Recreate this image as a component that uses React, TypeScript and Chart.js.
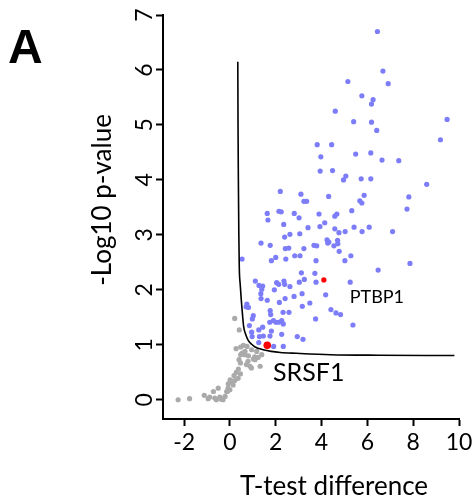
import React, { useEffect, useRef } from "react";
import { Chart, registerables } from "chart.js";

Chart.register(...registerables);

// ---------- data ----------
const xTickValues = [-2, 0, 2, 4, 6, 8, 10];
const yTickValues = [0, 1, 2, 3, 4, 5, 6, 7];

const xTitle = "T-test difference";
const yTitle = "-Log10 p-value";
const panelLabel = "A";

// significant proteins (blue) [difference, -log10 p]
const significantPoints: [number, number][] = [
  [6.44, 6.7], [6.68, 5.98], [5.15, 5.79], [6.91, 5.75], [5.76, 5.53], [6.25, 5.46],
  [6.18, 5.38], [4.6, 5.25], [9.48, 5.1], [5.4, 5.06], [6.18, 5.05], [6.41, 4.9],
  [9.19, 4.73], [3.81, 4.64], [4.44, 4.64], [3.97, 4.42], [5.49, 4.47], [6.15, 4.49],
  [6.64, 4.36], [7.37, 4.35], [3.94, 4.16], [4.48, 4.17], [5.06, 4.07], [4.96, 4.0],
  [5.73, 4.02], [6.15, 4.02], [8.59, 3.92], [2.2, 3.79], [3.1, 3.74], [4.31, 3.7],
  [5.86, 3.72], [5.67, 3.62], [5.76, 3.58], [7.81, 3.69], [3.23, 3.61], [3.35, 3.61],
  [7.73, 3.47], [5.32, 3.44], [1.63, 3.39], [1.66, 3.27], [2.14, 3.43], [2.24, 3.42],
  [2.81, 3.39], [3.02, 3.31], [2.35, 3.19], [3.41, 3.13], [3.89, 3.38], [3.93, 3.15],
  [4.14, 3.22], [4.58, 3.34], [4.67, 3.38], [4.58, 3.11], [4.76, 3.04], [5.03, 3.06],
  [5.42, 3.14], [5.77, 3.06], [6.08, 3.14], [7.1, 3.06], [2.39, 2.96], [2.62, 3.01],
  [3.05, 3.02], [1.36, 2.85], [1.76, 2.81], [2.42, 2.75], [2.57, 2.76], [3.23, 2.75],
  [3.67, 2.81], [3.79, 2.8], [4.24, 2.91], [4.27, 2.85], [4.32, 2.87], [4.7, 2.9],
  [4.71, 2.84], [4.54, 2.8], [4.77, 2.7], [5.28, 2.62], [5.02, 2.53], [3.76, 2.53],
  [2.0, 2.59], [1.81, 2.53], [2.44, 2.56], [2.83, 2.62], [3.06, 2.62], [0.53, 2.56],
  [7.86, 2.48], [6.47, 2.36], [3.12, 2.31], [3.71, 2.3], [3.76, 2.14], [5.25, 2.14],
  [4.18, 1.91], [1.11, 2.16], [1.27, 2.08], [1.43, 2.07], [1.39, 2.01], [2.04, 2.13],
  [2.13, 2.1], [2.36, 2.16], [2.39, 2.1], [2.62, 2.06], [3.03, 2.14], [3.25, 2.19],
  [1.94, 2.0], [1.35, 1.93], [1.36, 1.84], [1.63, 1.81], [2.16, 1.77], [2.41, 1.84],
  [2.8, 1.88], [3.15, 1.93], [3.49, 1.76], [0.74, 1.74], [0.81, 1.68], [0.71, 1.69],
  [1.02, 1.53], [0.98, 1.47], [1.76, 1.62], [1.78, 1.55], [2.32, 1.59], [2.58, 1.59],
  [1.9, 1.44], [2.01, 1.41], [2.13, 1.41], [2.26, 1.44], [2.33, 1.38], [1.74, 1.41],
  [1.43, 1.32], [1.26, 1.27], [0.85, 1.35], [1.81, 1.25], [2.26, 1.19], [3.74, 1.47],
  [0.95, 1.23], [0.97, 1.15], [1.29, 1.15], [1.46, 1.16], [1.75, 1.16], [2.94, 1.15],
  [3.19, 1.1], [1.26, 1.04], [2.33, 0.97], [1.91, 0.97], [3.16, 1.7], [4.41, 1.64],
  [4.63, 1.58], [4.83, 1.55], [5.37, 1.36],
];

// non-significant proteins (grey)
const nonSignificantPoints: [number, number][] = [
  [0.21, 1.48], [0.41, 1.27], [0.27, 0.93], [0.47, 0.96], [0.66, 0.88], [0.54, 0.85],
  [0.75, 0.97], [0.95, 0.91], [0.59, 0.99], [1.08, 0.78], [1.23, 0.77], [1.02, 0.74],
  [1.32, 0.61], [1.39, 0.82], [1.1, 0.73], [0.4, 0.73], [0.46, 0.67], [0.79, 0.7],
  [0.72, 0.64], [0.88, 0.61], [0.94, 0.58], [0.37, 0.56], [0.28, 0.5], [0.46, 0.47],
  [0.18, 0.44], [0.36, 0.39], [0.21, 0.35], [0.07, 0.33], [0.14, 0.27], [-0.08, 0.21],
  [0.0, 0.18], [-0.11, 0.15], [-0.51, 0.21], [-0.72, 0.15], [-1.12, 0.08], [-0.95, 0.02],
  [-0.88, 0.05], [-0.66, 0.03], [-0.59, 0.0], [-0.44, 0.05], [-0.37, 0.01], [-0.3, 0.0],
  [-0.21, 0.06], [-0.14, 0.15], [-2.26, 0.0], [-1.76, 0.02], [1.17, 0.88], [0.81, 0.8],
  [0.65, 0.82], [0.47, 0.82], [0.01, 0.36], [-0.07, 0.29],
];

// highlighted proteins (red)
const highlightNames = ["SRSF1", "PTBP1"];
const highlightX = [1.63, 4.1];
const highlightY = [0.99, 2.18];

// significance threshold curve
const curveX = [0.345, 0.355, 0.37, 0.39, 0.41, 0.45, 0.5, 0.55, 0.6, 0.68, 0.8, 0.95, 1.1, 1.45, 1.8, 2.2, 2.9, 4.4, 6.5, 9.8];
const curveY = [6.15, 5.0, 4.0, 3.0, 2.4, 2.1, 1.8, 1.55, 1.33, 1.2, 1.08, 1.01, 0.96, 0.91, 0.88, 0.86, 0.845, 0.82, 0.81, 0.805];

// text annotations
const annotationText = ["PTBP1", "SRSF1"];
const annotationX = [5.23, 1.88];
const annotationY = [1.87, 0.49];

// ---------- styles ----------
const FONT = "Lato";
const annotationFontSize = [18, 25];
const blue = "rgb(125,125,250)";
const grey = "rgb(170,170,170)";
const red = "rgb(255,0,0)";

const decorPlugin = {
  id: "decor",
  afterDraw(chart: any) {
    const { ctx } = chart;
    const xs = chart.scales.x;
    const ys = chart.scales.y;
    ctx.save();
    ctx.fillStyle = "#000";
    ctx.font = 'bold 48px "Liberation Sans"';
    ctx.textAlign = "left";
    ctx.textBaseline = "alphabetic";
    ctx.fillText(panelLabel, 8, 63);

    ctx.textBaseline = "middle";
    annotationText.forEach((t, i) => {
      ctx.font = `${annotationFontSize[i]}px ${FONT}`;
      ctx.fillText(t, xs.getPixelForValue(annotationX[i]), ys.getPixelForValue(annotationY[i]));
    });

    ctx.font = `26px ${FONT}`;
    ctx.textAlign = "center";
    ctx.fillText(xTitle, 334, 487);
    ctx.translate(103, 200);
    ctx.rotate(-Math.PI / 2);
    ctx.fillText(yTitle, 0, 0);
    ctx.restore();
  },
};

export default function App() {
  const ref = useRef<HTMLCanvasElement>(null);
  useEffect(() => {
    if (!ref.current) return;
    const chart = new Chart(ref.current, {
      type: "scatter",
      data: {
        datasets: [
          {
            label: "highlight",
            data: highlightX.map((x, i) => ({ x, y: highlightY[i] })),
            backgroundColor: red,
            borderWidth: 0,
            pointRadius: [3.8, 2.6],
          },
          {
            label: "threshold",
            data: curveX.map((x, i) => ({ x, y: curveY[i] })),
            showLine: true,
            borderColor: "#000",
            borderWidth: 1.6,
            pointRadius: 0,
            cubicInterpolationMode: "monotone",
            fill: false,
          } as any,
          {
            label: "significant",
            data: significantPoints.map(([x, y]) => ({ x, y })),
            backgroundColor: blue,
            borderWidth: 0,
            pointRadius: 2.6,
          },
          {
            label: "not significant",
            data: nonSignificantPoints.map(([x, y]) => ({ x, y })),
            backgroundColor: grey,
            borderWidth: 0,
            pointRadius: 2.6,
          },
        ],
      },
      options: {
        animation: false,
        responsive: false,
        devicePixelRatio: 1,
        layout: { padding: { left: 0, right: 13, top: 15, bottom: 0 } },
        plugins: { legend: { display: false }, tooltip: { enabled: false } },
        scales: {
          x: {
            type: "linear",
            min: -2.92,
            max: 10,
            afterBuildTicks: (s: any) => {
              s.ticks = xTickValues.map((v) => ({ value: v }));
            },
            afterFit: (s: any) => {
              s.height = 83;
              s.paddingLeft = 0;
              s.paddingRight = 0;
            },
            ticks: {
              font: { family: FONT, size: 23 },
              color: "#000",
              padding: 3,
              maxRotation: 0,
              autoSkip: false,
            },
            grid: {
              drawOnChartArea: false,
              drawTicks: true,
              tickLength: 7,
              tickColor: "#000",
              tickWidth: 2,
            },
            border: { display: true, color: "#000", width: 2 },
          },
          y: {
            type: "linear",
            min: -0.35,
            max: 7,
            afterBuildTicks: (s: any) => {
              s.ticks = yTickValues.map((v) => ({ value: v }));
            },
            afterFit: (s: any) => {
              s.width = 163;
              s.paddingTop = 0;
              s.paddingBottom = 0;
            },
            ticks: {
              font: { family: FONT, size: 23 },
              color: "#000",
              padding: 5,
              minRotation: 90,
              maxRotation: 90,
              crossAlign: "center",
              autoSkip: false,
            },
            grid: {
              drawOnChartArea: false,
              drawTicks: true,
              tickLength: 7,
              tickColor: "#000",
              tickWidth: 2,
            },
            border: { display: true, color: "#000", width: 2 },
          },
        },
      },
      plugins: [decorPlugin],
    } as any);
    return () => chart.destroy();
  }, []);

  return (
    <div style={{ position: "absolute", left: 0, top: 0, width: 472, height: 502, background: "#fff" }}>
      <canvas ref={ref} width={472} height={502} style={{ display: "block" }} />
    </div>
  );
}
